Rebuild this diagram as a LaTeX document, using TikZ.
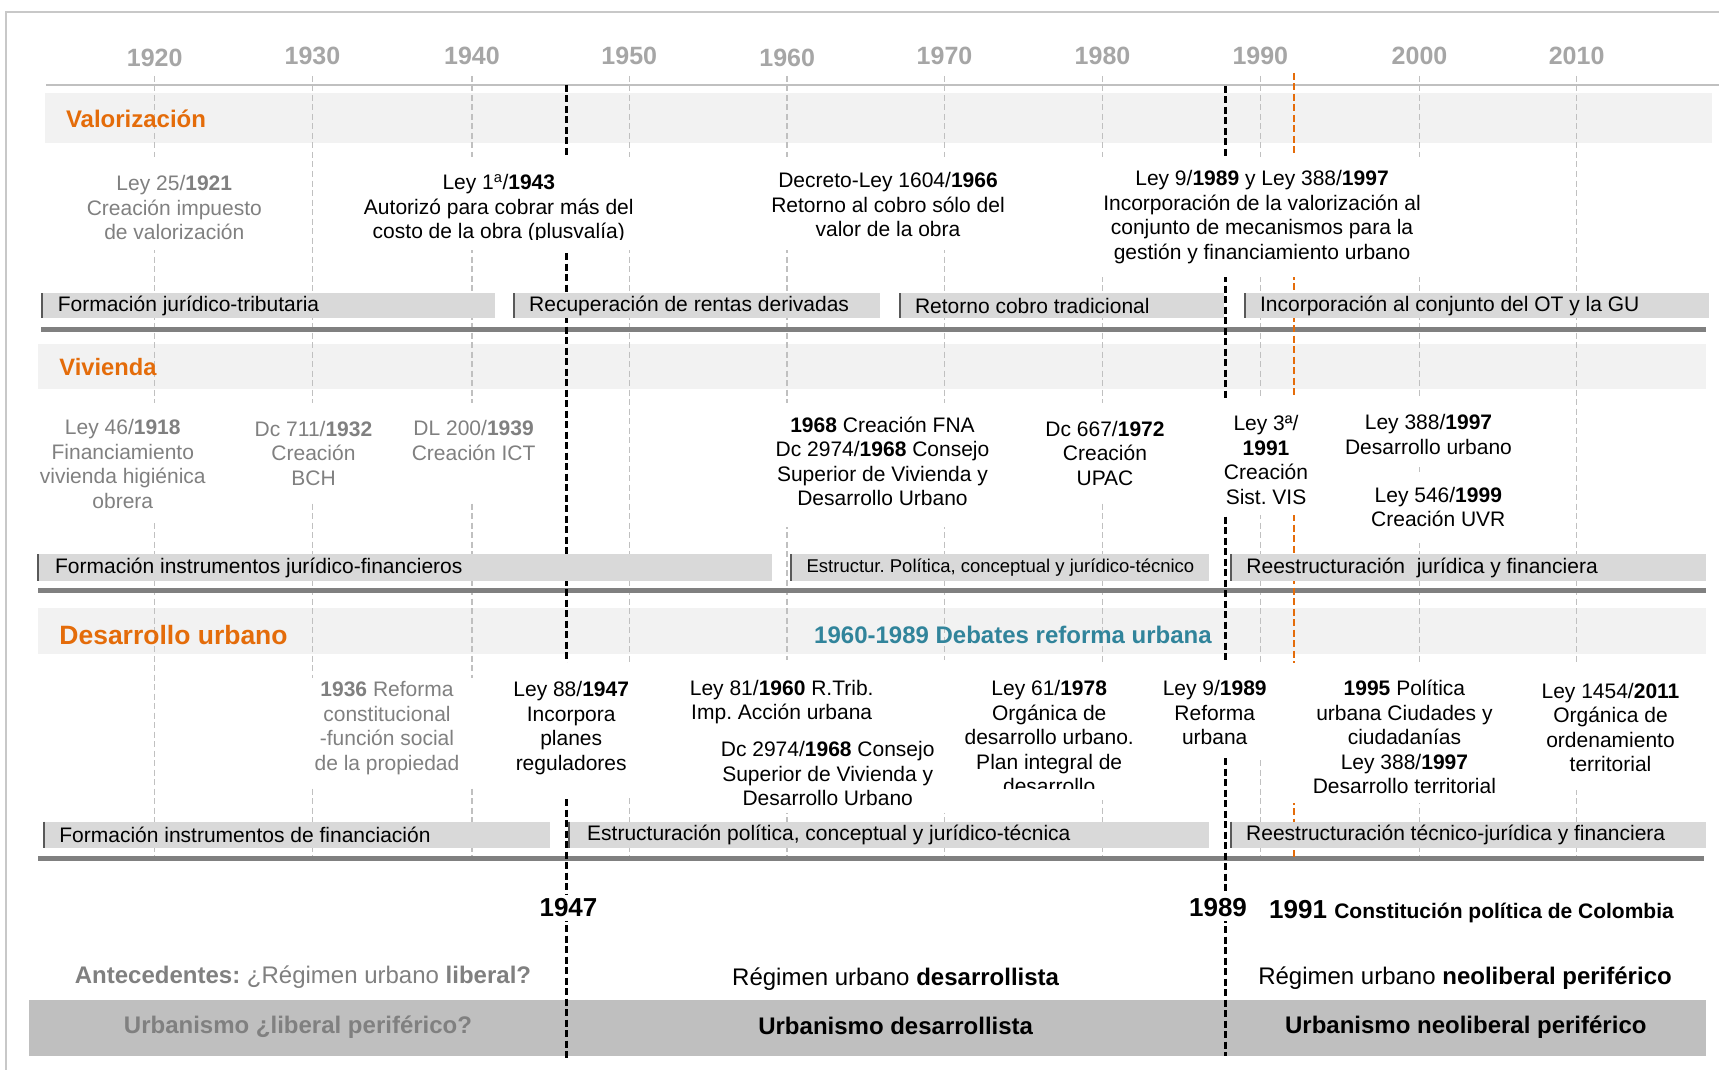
\documentclass[tikz,border=0pt]{standalone}
\usepackage{fontspec}
\setmainfont{Liberation Sans}
\frenchspacing
\definecolor{orangec}{HTML}{E46C0A}
\definecolor{tealc}{HTML}{31849B}
\definecolor{bandgray}{HTML}{F2F2F2}
\definecolor{barfill}{HTML}{D9D9D9}
\definecolor{sepgray}{HTML}{808080}
\definecolor{linegray}{HTML}{C0C0C0}
\definecolor{yeargray}{HTML}{A6A6A6}
\definecolor{txtgray}{HTML}{808080}
\definecolor{edgegray}{HTML}{595959}
\definecolor{botgray}{HTML}{BFBFBF}
\definecolor{framegray}{HTML}{C8C8C8}
\tikzset{
  txt/.style={align=center, inner sep=0pt, font=\fontsize{21}{24.5}\selectfont},
  gtxt/.style={txt, text=txtgray},
  bartxt/.style={anchor=west, inner sep=0pt, font=\fontsize{21}{24}\selectfont},
  smallbartxt/.style={anchor=west, inner sep=0pt, font=\fontsize{18.5}{22}\selectfont},
  yearlbl/.style={font=\bfseries\fontsize{25}{30}\selectfont, text=yeargray, inner sep=0pt},
  sectlbl/.style={anchor=west, inner sep=0pt, text=orangec},
  gline/.style={draw=linegray, line width=1.5pt, dash pattern=on 6pt off 3.5pt},
  bline/.style={draw=black, line width=2.4pt, dash pattern=on 7pt off 3.5pt},
  oline/.style={draw=orangec, line width=2.2pt, dash pattern=on 7pt off 3.5pt},
  sepline/.style={draw=sepgray, line width=5pt},
  edgeline/.style={draw=edgegray, line width=2pt},
  bottxt/.style={inner sep=0pt, font=\fontsize{24}{28}\selectfont},
  markyr/.style={inner sep=4pt, fill=white, font=\bfseries\fontsize{26}{30}\selectfont}
}
\begin{document}
\begin{tikzpicture}[x=1pt,y=-1pt]
\useasboundingbox (0,0) rectangle (1719,1070);
\fill[white] (0,0) rectangle (1719,1070);
% frame
\draw[framegray, line width=2pt] (6,1070) -- (6,12) -- (1719,12);
% bands
\fill[bandgray] (45,93) rectangle (1712,143);
\fill[bandgray] (38.4,344) rectangle (1706,389);
\fill[bandgray] (38.4,608) rectangle (1706,654);
% top axis line
\draw[linegray, line width=1.5pt] (46,85) -- (1719,85);
% year grid lines
\foreach \xx in {154.7,312.5,472,629.3,787.2,944.5,1102.5,1260.3,1419.5,1576.6}
  \draw[gline] (\xx,76) -- (\xx,856);
% bottom bar
\fill[botgray] (28.5,1000) rectangle (1706,1056);
% separators
\draw[sepline] (41,329.3) -- (1706,329.3);
\draw[sepline] (38.4,590) -- (1706,590);
\draw[sepline] (38.4,858.3) -- (1703.6,858.3);
% orange 1991 line
\draw[oline] (1293.9,73) -- (1293.9,858);
% black period lines
\draw[bline] (566.6,85) -- (566.6,1058);
\draw[bline] (1225.4,86) -- (1225.4,1056);
% bars row 1
\fill[barfill] (41,293.3) rectangle (494.8,318.3);
\fill[barfill] (512.9,293.3) rectangle (880.3,318.3);
\fill[barfill] (899.4,293.3) rectangle (1224,318.3);
\fill[barfill] (1243.5,293.3) rectangle (1709,318.3);
\draw[edgeline] (42,293.3) -- (42,318.3);
\draw[edgeline] (514,293.3) -- (514,318.3);
\draw[edgeline] (900.4,293.3) -- (900.4,318.3);
\draw[edgeline] (1244.5,293.3) -- (1244.5,318.3);
% bars row 2
\fill[barfill] (37.3,554.3) rectangle (771.8,580.7);
\fill[barfill] (790,554.3) rectangle (1209,580.7);
\fill[barfill] (1229.8,554.3) rectangle (1706,580.7);
\draw[edgeline] (38.3,554.3) -- (38.3,580.7);
\draw[edgeline] (791,554.3) -- (791,580.7);
\draw[edgeline] (1230.8,554.3) -- (1230.8,580.7);
% bars row 3
\fill[barfill] (42.8,821.7) rectangle (550.2,848.3);
\fill[barfill] (567.7,821.7) rectangle (1209,848.3);
\fill[barfill] (1229.8,821.7) rectangle (1706,848.3);
\draw[edgeline] (43.8,821.7) -- (43.8,848.3);
\draw[edgeline] (569.3,821.7) -- (569.3,848.3);
\draw[edgeline] (1230.8,821.7) -- (1230.8,848.3);
% white text boxes (gaps in the lines)
\fill[white] (80,157) rectangle (268,250);
\fill[white] (355,157) rectangle (640,250);
\fill[white] (765,157) rectangle (1010,250);
\fill[white] (1095,157) rectangle (1428,277);
\fill[white] (30,403) rectangle (215,523);
\fill[white] (250,403) rectangle (378,500);
\fill[white] (405,403) rectangle (540,500);
\fill[white] (770,403) rectangle (995,527);
\fill[white] (1040,403) rectangle (1170,500);
\fill[white] (1215,398) rectangle (1310,515);
\fill[white] (1330,398) rectangle (1525,467);
\fill[white] (1360,473) rectangle (1520,543);
\fill[white] (300,678) rectangle (478,788);
\fill[white] (505,663) rectangle (635,797);
\fill[white] (680,660) rectangle (955,813);
\fill[white] (955,663) rectangle (1142,800);
\fill[white] (1160,663) rectangle (1270,757);
\fill[white] (1280,663) rectangle (1510,803);
\fill[white] (1530,663) rectangle (1700,790);
% year labels
\node[yearlbl] (y1920) at (154.7,58.1) {1920};
\node[yearlbl] (y1930) at (312.5,55.9) {1930};
\node[yearlbl] (y1940) at (472,55.9) {1940};
\node[yearlbl] (y1950) at (629.3,55.9) {1950};
\node[yearlbl] (y1960) at (787.2,58.1) {1960};
\node[yearlbl] (y1970) at (944.5,55.9) {1970};
\node[yearlbl] (y1980) at (1102.5,55.9) {1980};
\node[yearlbl] (y1990) at (1260.3,55.9) {1990};
\node[yearlbl] (y2000) at (1419.5,55.9) {2000};
\node[yearlbl] (y2010) at (1576.6,55.9) {2010};
% section labels
\node[sectlbl, font=\bfseries\fontsize{24}{28}\selectfont] (sVal) at (65.8,119) {Valorización};
\node[sectlbl, font=\bfseries\fontsize{23.7}{28}\selectfont] (sViv) at (59.2,367) {Vivienda};
\node[sectlbl, font=\bfseries\fontsize{26.5}{30}\selectfont] (sDes) at (59.2,635) {Desarrollo urbano};
\node[inner sep=0pt, text=tealc, font=\bfseries\fontsize{24}{28}\selectfont] (deb) at (1013,635) {1960-1989 Debates reforma urbana};
% row 1 texts
\node[gtxt] (tA) at (174.3,207.5) {Ley 25/\textbf{1921}\\Creación impuesto\\de valorización};
\begin{scope}
\clip (355,150) rectangle (640,239.5);
\node[txt] (tB) at (498.8,208.7) {Ley 1\textsuperscript{a}/\textbf{1943}\\Autorizó para cobrar más del\\costo de la obra (plusvalía)};
\end{scope}
\node[txt] (tC) at (888,204.9) {Decreto-Ley 1604/\textbf{1966}\\Retorno al cobro sólo del\\valor de la obra};
\node[txt] (tD) at (1262,217) {Ley 9/\textbf{1989} y Ley 388/\textbf{1997}\\Incorporación de la valorización al\\conjunto de mecanismos para la\\gestión y financiamiento urbano};
% row 1 bars text
\node[bartxt] (b11) at (57.6,305.8) {Formación jurídico-tributaria};
\node[bartxt] (b12) at (529,305.8) {Recuperación de rentas derivadas};
\node[bartxt] (b13) at (914.8,305.8) {Retorno cobro tradicional};
\node[bartxt] (b14) at (1259.9,305.8) {Incorporación al conjunto del OT y la GU};
% row 2 texts
\node[gtxt] (tE) at (122.8,463.8) {Ley 46/\textbf{1918}\\Financiamiento\\vivienda higiénica\\obrera};
\node[gtxt] (tF) at (313.5,453.3) {Dc 711/\textbf{1932}\\Creación\\BCH};
\node[gtxt] (tG) at (473.6,440.7) {DL 200/\textbf{1939}\\Creación ICT};
\node[txt] (tH) at (882.5,461.5) {\textbf{1968} Creación FNA\\Dc 2974/\textbf{1968} Consejo\\Superior de Vivienda y\\Desarrollo Urbano};
\node[txt] (tI) at (1105,453.3) {Dc 667/\textbf{1972}\\Creación\\UPAC};
\node[txt] (tJ) at (1266,459.8) {Ley 3ª/\\\textbf{1991}\\Creación\\Sist. VIS};
\node[txt] (tK) at (1428.5,434.7) {Ley 388/\textbf{1997}\\Desarrollo urbano};
\node[txt] (tL) at (1438.3,507) {Ley 546/\textbf{1999}\\Creación UVR};
% row 2 bars text
\node[bartxt] (b21) at (54.9,567.5) {Formación instrumentos jurídico-financieros};
\node[smallbartxt] (b22) at (806.4,567.5) {Estructur. Política, conceptual y jurídico-técnico};
\node[bartxt] (b23) at (1246.2,567.5) {Reestructuración~ jurídica y financiera};
% row 3 texts
\node[gtxt] (tM) at (387,727.9) {\textbf{1936} Reforma\\constitucional\\-función social\\de la propiedad};
\node[txt] (tN) at (571.2,727.9) {Ley 88/\textbf{1947}\\Incorpora\\planes\\reguladores};
\node[txt] (tO) at (781.7,702.1) {Ley 81/\textbf{1960} R.Trib.\\Imp. Acción urbana};
\node[txt] (tP) at (827.7,773.5) {Dc 2974/\textbf{1968} Consejo\\Superior de Vivienda y\\Desarrollo Urbano};
\begin{scope}
\clip (955,663) rectangle (1142,788);
\node[txt] (tQ) at (1049.2,737.2) {Ley 61/\textbf{1978}\\Orgánica de\\desarrollo urbano.\\Plan integral de\\desarrollo};
\end{scope}
\node[txt] (tR) at (1214.7,712.5) {Ley 9/\textbf{1989}\\Reforma\\urbana};
\node[txt] (tS) at (1404.4,737.2) {\textbf{1995} Política\\urbana Ciudades y\\ciudadanías\\Ley 388/\textbf{1997}\\Desarrollo territorial};
\node[txt] (tT) at (1610.5,727.4) {Ley 1454/\textbf{2011}\\Orgánica de\\ordenamiento\\territorial};
% row 3 bars text
\node[bartxt] (b31) at (59.2,835) {Formación instrumentos de financiación};
\node[bartxt] (b32) at (587,835) {Estructuración política, conceptual y jurídico-técnica};
\node[bartxt] (b33) at (1246,835) {Reestructuración técnico-jurídica y financiera};
% bottom markers
\node[markyr] (m1947) at (568.5,908) {1947};
\node[markyr] (m1989) at (1218,908) {1989};
\node[anchor=base west, inner sep=0pt] (m1991) at (1269,918) {\bfseries\fontsize{26}{30}\selectfont 1991 \fontsize{21}{25}\selectfont Constitución política de Colombia};
% regimes
\node[bottxt, text=txtgray] (r1) at (303,977) {\textbf{Antecedentes:} ¿Régimen urbano \textbf{liberal?}};
\node[bottxt] (r2) at (895.7,979) {Régimen urbano \textbf{desarrollista}};
\node[bottxt] (r3) at (1465,978) {Régimen urbano \textbf{neoliberal periférico}};
\node[bottxt, text=txtgray, font=\bfseries\fontsize{24}{28}\selectfont] (u1) at (298,1027) {Urbanismo ¿liberal periférico?};
\node[bottxt, font=\bfseries\fontsize{24}{28}\selectfont] (u2) at (895.7,1026) {Urbanismo desarrollista};
\node[bottxt, font=\bfseries\fontsize{24}{28}\selectfont] (u3) at (1465.8,1027) {Urbanismo neoliberal periférico};
\end{tikzpicture}
\end{document}
